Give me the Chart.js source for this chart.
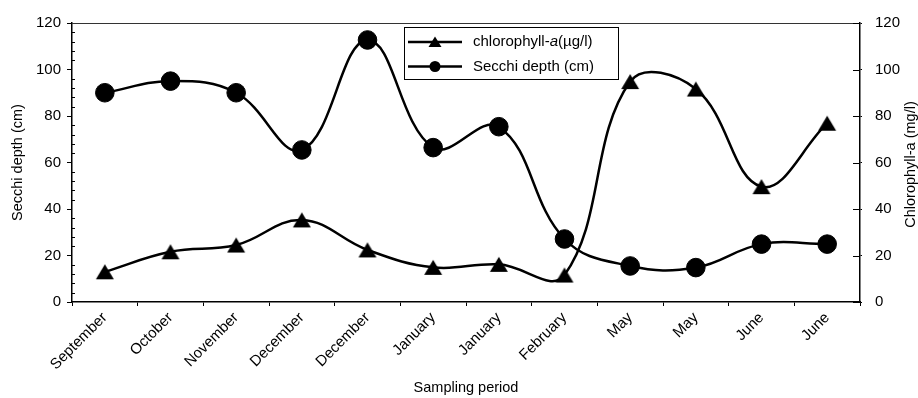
<!DOCTYPE html>
<html><head><meta charset="utf-8">
<script src="https://cdn.jsdelivr.net/npm/chart.js@4.4.1/dist/chart.umd.min.js"></script>
<style>html,body{margin:0;padding:0;background:#fff;}canvas{display:block;}</style>
</head><body>
<canvas id="c" width="918" height="398"></canvas>
<script>
const categories = ['September','October','November','December','December','January','January','February','May','May','June','June'];
const chlorophyll = [13, 21.6, 24.5, 35.3, 22.4, 14.9, 16.2, 11.6, 94.8, 91.6, 49.6, 76.9];
const secchi = [90, 95, 90, 65.4, 112.7, 66.4, 75.4, 27.1, 15.5, 14.8, 24.9, 24.9];
const axisMin = 0, axisMax = 120, majorStep = 20, minorStep = 4;
const leftTitle = 'Secchi depth (cm)';
const rightTitle = 'Chlorophyll-a (mg/l)';
const xTitle = 'Sampling period';

const FONT = "'Liberation Sans', Arial, sans-serif";

function triCanvas(w, h) {
  const c = document.createElement('canvas');
  c.width = w + 2; c.height = h + 2;
  const g = c.getContext('2d');
  g.fillStyle = '#000';
  g.beginPath();
  g.moveTo(c.width / 2, 1);
  g.lineTo(c.width / 2 + w / 2, 1 + h);
  g.lineTo(c.width / 2 - w / 2, 1 + h);
  g.closePath();
  g.fill();
  return c;
}
const triStyle = triCanvas(18, 15);

const decorPlugin = {
  id: 'decor',
  afterDraw(chart) {
    const ctx = chart.ctx;
    const a = chart.chartArea;
    const yl = chart.scales.yL, yr = chart.scales.yR;
    ctx.save();
    // top frame line
    ctx.strokeStyle = '#333';
    ctx.lineWidth = 1;
    ctx.beginPath();
    ctx.moveTo(a.left, a.top + 0.5);
    ctx.lineTo(a.right, a.top + 0.5);
    ctx.stroke();
    // minor ticks on left axis (inside)
    ctx.strokeStyle = '#000';
    ctx.lineWidth = 1;
    for (let v = axisMin; v <= axisMax; v += minorStep) {
      if (v % majorStep === 0) continue;
      const y = Math.round(yl.getPixelForValue(v)) + 0.5;
      ctx.beginPath();
      ctx.moveTo(a.left, y);
      ctx.lineTo(a.left + 3, y);
      ctx.stroke();
    }
    // inward part of right axis major ticks
    for (let v = axisMin; v <= axisMax; v += majorStep) {
      const y = Math.round(yr.getPixelForValue(v)) + 0.5;
      ctx.beginPath();
      ctx.moveTo(a.right - 7, y);
      ctx.lineTo(a.right, y);
      ctx.stroke();
    }
    // right axis title (reads bottom to top)
    ctx.fillStyle = '#000';
    ctx.font = '14.5px ' + FONT;
    ctx.textAlign = 'center';
    ctx.textBaseline = 'middle';
    ctx.translate(911, (a.top + a.bottom) / 2 + 2);
    ctx.rotate(-Math.PI / 2);
    ctx.fillText(rightTitle, 0, 0);
    ctx.restore();

    // legend
    ctx.save();
    const bx = 404.5, by = 27.5, bw = 214, bh = 52;
    ctx.fillStyle = '#fff';
    ctx.fillRect(bx, by, bw, bh);
    ctx.strokeStyle = '#000';
    ctx.lineWidth = 1;
    ctx.strokeRect(bx, by, bw, bh);
    const rows = [42, 66.5];
    ctx.lineWidth = 2.5;
    rows.forEach((ry, i) => {
      ctx.beginPath();
      ctx.moveTo(408, ry);
      ctx.lineTo(462, ry);
      ctx.stroke();
      ctx.fillStyle = '#000';
      ctx.beginPath();
      if (i === 0) {
        ctx.moveTo(435, ry - 5.5);
        ctx.lineTo(441.5, ry + 5);
        ctx.lineTo(428.5, ry + 5);
        ctx.closePath();
      } else {
        ctx.arc(435, ry, 5.5, 0, Math.PI * 2);
      }
      ctx.fill();
    });
    ctx.fillStyle = '#000';
    ctx.textAlign = 'left';
    ctx.textBaseline = 'middle';
    let x = 473;
    const parts = [['chlorophyll-', ''], ['a', 'italic '], ['(\u00b5g/l)', '']];
    parts.forEach(([t, st]) => {
      ctx.font = st + '15px ' + FONT;
      ctx.fillText(t, x, rows[0]);
      x += ctx.measureText(t).width;
    });
    ctx.font = '15px ' + FONT;
    ctx.fillText('Secchi depth (cm)', 473, rows[1]);
    ctx.restore();
  }
};

new Chart(document.getElementById('c'), {
  type: 'line',
  data: {
    labels: categories,
    datasets: [
      {
        label: 'chlorophyll-a(\u00b5g/l)',
        data: chlorophyll,
        yAxisID: 'yR',
        borderColor: '#000',
        backgroundColor: '#000',
        borderWidth: 2.5,
        tension: 0.4,
        pointStyle: triStyle,
        pointRadius: 9,
        fill: false
      },
      {
        label: 'Secchi depth (cm)',
        data: secchi,
        yAxisID: 'yL',
        borderColor: '#000',
        backgroundColor: '#000',
        borderWidth: 2.5,
        tension: 0.4,
        pointStyle: 'circle',
        pointRadius: 9.3,
        pointBorderWidth: 1,
        pointBorderColor: '#000',
        pointBackgroundColor: '#000',
        fill: false
      }
    ]
  },
  options: {
    responsive: false,
    animation: false,
    events: [],
    layout: { padding: { top: 23, left: 0, right: 0, bottom: 0 } },
    plugins: { legend: { display: false }, tooltip: { enabled: false } },
    scales: {
      x: {
        type: 'category',
        offset: true,
        grid: { offset: true, drawOnChartArea: false, drawTicks: true, tickLength: 4, color: '#000', lineWidth: 1 },
        border: { display: true, color: '#000', width: 1.5 },
        ticks: { color: '#000', font: { family: FONT, size: 15 }, minRotation: 45, maxRotation: 45, autoSkip: false, padding: 3 },
        title: { display: true, text: xTitle, color: '#000', font: { family: FONT, size: 14.5 }, padding: { top: 0, bottom: 1 } },
        afterFit(s) { s.height = 96; }
      },
      yL: {
        position: 'left',
        min: axisMin, max: axisMax,
        ticks: { stepSize: majorStep, color: '#000', font: { family: FONT, size: 15 }, padding: 6 },
        grid: { drawOnChartArea: false, drawTicks: true, tickLength: 5, color: '#000', lineWidth: 1 },
        border: { display: true, color: '#000', width: 1.5 },
        title: { display: true, text: leftTitle, color: '#000', font: { family: FONT, size: 14.5 }, padding: { top: 9, bottom: 0 } },
        afterFit(s) { s.width = 72; }
      },
      yR: {
        position: 'right',
        min: axisMin, max: axisMax,
        ticks: { stepSize: majorStep, color: '#000', font: { family: FONT, size: 15 }, padding: 13 },
        grid: { drawOnChartArea: false, drawTicks: true, tickLength: 2, color: '#000', lineWidth: 1 },
        border: { display: true, color: '#000', width: 1.5 },
        afterFit(s) { s.width = 58; }
      }
    }
  },
  plugins: [decorPlugin]
});
</script>
</body></html>
